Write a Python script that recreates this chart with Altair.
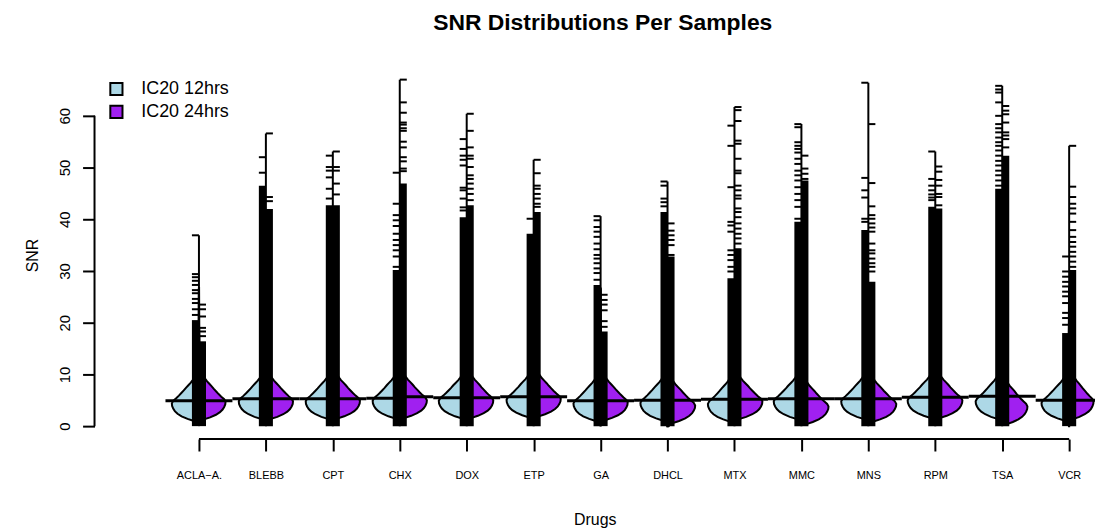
import altair as alt
import pandas as pd

DRUGS = ["ACLA\u2212A.", "BLEBB", "CPT", "CHX", "DOX", "ETP", "GA", "DHCL",
         "MTX", "MMC", "MNS", "RPM", "TSA", "VCR"]
GROUPS = ["IC20 12hrs", "IC20 24hrs"]
COLORS = ["#ADD8E6", "#A020F0"]
TITLE = "SNR Distributions Per Samples"

# median (bean line) per drug and group
MEDIAN_12 = [4.9, 5.3, 5.3, 5.4, 5.5, 5.7, 4.9, 5.0, 5.2, 5.3, 5.3, 5.6, 5.8, 5.0]
MEDIAN_24 = [4.9, 5.3, 5.3, 5.7, 5.5, 5.7, 4.9, 5.0, 5.2, 5.3, 5.3, 5.6, 5.8, 5.0]
# SNR of the density mode and relative max width
PEAK_12 = [4.4, 4.8, 4.8, 4.9, 4.9, 5.1, 4.4, 4.5, 4.3, 4.8, 4.8, 5.0, 4.8, 4.5]
PEAK_24 = [4.7, 4.8, 4.9, 5.0, 5.0, 5.3, 4.6, 4.0, 4.8, 3.8, 4.3, 5.0, 3.8, 4.8]
WIDTH_12 = [1.0, 1.0, 1.0, 1.0, 1.03, 1.0, 1.0, 1.0, 0.98, 1.02, 1.0, 1.02, 0.98, 1.02]
WIDTH_24 = [0.98, 1.0, 1.0, 1.0, 0.98, 1.0, 1.0, 1.02, 1.03, 1.0, 1.03, 1.0, 0.93, 0.9]

# typical bean profile: offset from mode (SNR) and relative density
PROFILE_OFFSET = [-4.5, -4.0, -3.5, -3.0, -2.5, -2.0, -1.5, -1.0, -0.5, 0.0, 0.5, 1.0,
                  1.5, 2.0, 2.5, 3.0, 3.5, 4.0, 4.5, 5.0, 6.0, 7.5, 10.0, 15.0, 22.0]
PROFILE_DENS = [0.01, 0.04, 0.13, 0.42, 0.64, 0.79, 0.89, 0.95, 0.99, 1.0, 0.95, 0.84,
                0.74, 0.65, 0.56, 0.48, 0.39, 0.3, 0.23, 0.17, 0.11, 0.06, 0.03, 0.012, 0.005]

# upper edge of the dense (solid) part of the bean lines
DENSE_12 = [20.5, 46.5, 42.7, 30.2, 40.4, 37.2, 27.3, 41.4, 28.6, 39.5, 37.9, 42.4, 45.9, 18.0]
DENSE_24 = [16.4, 42.0, 42.7, 46.9, 42.7, 41.4, 18.3, 32.8, 34.4, 47.5, 27.9, 42.1, 52.3, 30.2]

# individual (sparse) observations above the dense part
TICKS_12 = [
    [36.9, 29.4, 28.8, 28.1, 27.3, 26.3, 25.7, 24.6, 23.8, 22.6, 21.5],
    [52.0, 49.0],
    [52.3, 50.1, 49.4, 48.1, 45.9, 44.0],
    [49.0, 43.0, 40.8, 39.8, 38.7, 37.2, 36.0, 35.0, 34.0, 32.8, 30.8],
    [55.5, 53.6, 52.3, 51.5, 50.4, 46.1, 45.6, 44.0, 42.3, 41.7],
    [40.1],
    [40.6, 39.8, 38.5, 37.6, 36.6, 35.3, 34.2, 33.1, 32.4, 31.5, 30.5, 29.6, 28.3],
    [47.3, 46.5, 44.0, 43.3, 42.5],
    [58.1, 54.2, 46.2, 39.5, 38.8, 37.6, 34.0, 33.1, 32.1, 30.8, 29.9],
    [58.4, 57.8, 54.9, 54.2, 53.6, 52.9, 51.7, 50.7, 49.4, 48.5, 47.5, 46.2, 44.9, 43.7, 42.4, 40.1],
    [66.4, 48.0, 45.6, 44.2, 40.1, 39.5],
    [53.1, 47.8, 46.5, 45.6, 44.8, 44.2, 43.7],
    [65.8, 65.1, 64.5, 62.6, 60.0, 58.4, 57.6, 56.8, 55.8, 54.9, 54.2, 53.3, 52.3, 51.3,
     50.4, 49.4, 48.5, 47.5, 46.5],
    [32.8, 29.9, 28.9, 27.9, 27.0, 26.0, 25.1, 23.8, 21.9, 20.9, 19.6],
]
TICKS_24 = [
    [23.5, 22.6, 21.2, 19.0, 18.3, 17.4],
    [56.6, 44.3, 43.5],
    [53.1, 50.1, 49.4, 46.9, 44.8],
    [67.0, 62.6, 60.6, 58.7, 58.3, 57.6, 57.1, 55.0, 53.9, 52.0, 51.2, 49.8, 49.3],
    [60.4, 57.1, 53.9, 52.3, 51.7, 50.1, 48.5, 47.8, 46.9, 45.9, 44.9, 43.7],
    [51.5, 48.9, 46.5, 45.9, 44.9, 44.0, 43.0, 42.4],
    [25.4, 24.4, 23.5, 22.4, 20.3, 19.2],
    [39.2, 37.8, 36.9, 36.0, 35.0, 33.1],
    [61.7, 61.1, 59.0, 55.2, 54.6, 51.7, 49.4, 48.9, 46.5, 45.6, 44.6, 44.0, 42.1, 41.4,
     40.4, 39.2, 38.2, 37.2, 36.3, 35.3],
    [52.3, 49.8, 48.8, 47.8],
    [58.4, 47.0, 42.5, 40.8, 40.1, 39.2, 38.4, 37.6, 35.3, 34.0, 33.4, 32.4, 31.5, 30.8, 29.9],
    [50.2, 49.2, 47.6, 46.5, 44.9, 44.3, 42.7],
    [61.9, 61.0, 60.3, 58.7, 56.8, 56.2, 55.5, 53.9],
    [54.2, 46.3, 44.3, 43.0, 42.1, 41.1, 39.5, 37.9, 36.6, 35.6, 34.7, 33.7, 32.8, 31.8, 30.8],
]

Y_TICKS = [0, 10, 20, 30, 40, 50, 60]

# ---- layout constants ----
W, H = 1006, 370
XMIN, XMAX = -0.56, 14.386
YMIN, YMAX = -2.5, 68.65
HALF = 0.405      # max half width of a bean (x units)
TICKLEN = 0.105   # length of a bean line tick
MEDW = 0.5        # half width of median line
FONT = "Liberation Sans"

# ---- build tables ----
bean_rows, tick_rows, dense_rows, med_rows, vert_rows = [], [], [], [], []
for i, d in enumerate(DRUGS):
    pos = i + 1
    sides = [
        (GROUPS[0], -1, PEAK_12[i], WIDTH_12[i], MEDIAN_12[i], DENSE_12[i], TICKS_12[i]),
        (GROUPS[1], 1, PEAK_24[i], WIDTH_24[i], MEDIAN_24[i], DENSE_24[i], TICKS_24[i]),
    ]
    for g, sgn, peak, wid, med, dense, ticks in sides:
        key = f"{d}|{g}"
        for off, dens in zip(PROFILE_OFFSET, PROFILE_DENS):
            y = peak + off
            if y < 0:
                continue
            bean_rows.append({"key": key, "group": g, "snr": y,
                              "x": pos + sgn * dens * wid * HALF, "x2": pos})
        a, b = sorted([pos, pos + sgn * TICKLEN])
        for t in ticks:
            tick_rows.append({"snr": t, "xa": a, "xb": b})
        dense_rows.append({"lo": 0.0, "hi": dense, "xa": a, "xb": b})
        ma, mb = sorted([pos, pos + sgn * MEDW])
        med_rows.append({"snr": med, "xa": ma, "xb": mb})
    vert_rows.append({"pos": pos, "lo": 0.0, "hi": max(TICKS_12[i] + TICKS_24[i])})

bean_df = pd.DataFrame(bean_rows).sort_values(["key", "snr"])
tick_df = pd.DataFrame(tick_rows)
dense_df = pd.DataFrame(dense_rows)
med_df = pd.DataFrame(med_rows)
vert_df = pd.DataFrame(vert_rows)
yaxis_df = pd.DataFrame({"lo": [min(Y_TICKS)], "hi": [max(Y_TICKS)]})
xaxis_df = pd.DataFrame({"lo": [1], "hi": [len(DRUGS)]})
title_df = pd.DataFrame({"t": [TITLE]})

XS = alt.Scale(domain=[XMIN, XMAX], nice=False, zero=False)
YS = alt.Scale(domain=[YMIN, YMAX], nice=False, zero=False)

label_expr = "[" + ",".join(f"'{d}'" for d in DRUGS) + "][datum.value - 1]"
XAXIS = alt.Axis(values=list(range(1, len(DRUGS) + 1)), labelExpr=label_expr,
                 title="Drugs", domain=False, grid=False, tickSize=12, tickWidth=2,
                 tickColor="black", labelFontSize=11, labelPadding=19, labelColor="black",
                 labelFont=FONT, titleFont=FONT, titleFontSize=16, titleFontWeight="normal",
                 titleColor="black", titleY=86, titleBaseline="alphabetic")
YAXIS = alt.Axis(values=Y_TICKS, title="SNR", domain=False, grid=False, tickSize=12,
                 tickWidth=2, tickColor="black", labelAngle=270, labelAlign="center",
                 labelBaseline="alphabetic", labelPadding=13, labelFontSize=15,
                 labelColor="black", labelFont=FONT, titleFont=FONT, titleFontSize=16,
                 titleFontWeight="normal", titleColor="black", titleAngle=270,
                 titleX=-62, titleY=H / 2, titleAlign="center", titleBaseline="middle")


def X(f):
    return alt.X(f, type="quantitative", scale=XS, axis=XAXIS)


def Y(f):
    return alt.Y(f, type="quantitative", scale=YS, axis=YAXIS)


beans = alt.Chart(bean_df).mark_area(
    orient="horizontal", stroke="black", strokeWidth=2, opacity=1, fillOpacity=1,
    clip=True
).encode(
    y=Y("snr"), x=X("x"), x2="x2",
    fill=alt.Fill("group:N", scale=alt.Scale(domain=GROUPS, range=COLORS),
                  legend=alt.Legend(title=None, orient="none", legendX=13, legendY=9,
                                    symbolType="square", symbolSize=150,
                                    symbolStrokeColor="black", symbolStrokeWidth=2,
                                    symbolOpacity=1, labelFontSize=18, labelFont=FONT,
                                    labelColor="black", labelOffset=16, rowPadding=1,
                                    padding=0)),
    detail="key:N",
)

dense = alt.Chart(dense_df).mark_rect(color="black").encode(
    x=X("xa"), x2="xb", y=Y("lo"), y2="hi")

ticks = alt.Chart(tick_df).mark_rule(color="black", strokeWidth=2).encode(
    x=X("xa"), x2="xb", y=Y("snr"))

vert = alt.Chart(vert_df).mark_rule(color="black", strokeWidth=2).encode(
    x=X("pos"), y=Y("lo"), y2="hi")

meds = alt.Chart(med_df).mark_rule(color="black", strokeWidth=3).encode(
    x=X("xa"), x2="xb", y=Y("snr"))

yline = alt.Chart(yaxis_df).mark_rule(color="black", strokeWidth=2).encode(
    x=alt.value(0), y=Y("lo"), y2="hi")

xline = alt.Chart(xaxis_df).mark_rule(color="black", strokeWidth=2).encode(
    y=alt.value(H), x=X("lo"), x2="hi")

title = alt.Chart(title_df).mark_text(
    font=FONT, fontSize=23, fontWeight="bold", color="black", align="center",
    baseline="alphabetic"
).encode(x=alt.value(W / 2 + 8), y=alt.value(-41), text="t:N")

chart = alt.layer(beans, dense, ticks, vert, meds, yline, xline, title).properties(
    width=W, height=H,
    autosize=alt.AutoSizeParams(type="none"),
    padding={"left": 87, "top": 62, "right": 0, "bottom": 90},
).configure(font=FONT, background="white").configure_view(stroke=None)

chart.save("out.html", embed_options={"renderer": "svg", "actions": False})
